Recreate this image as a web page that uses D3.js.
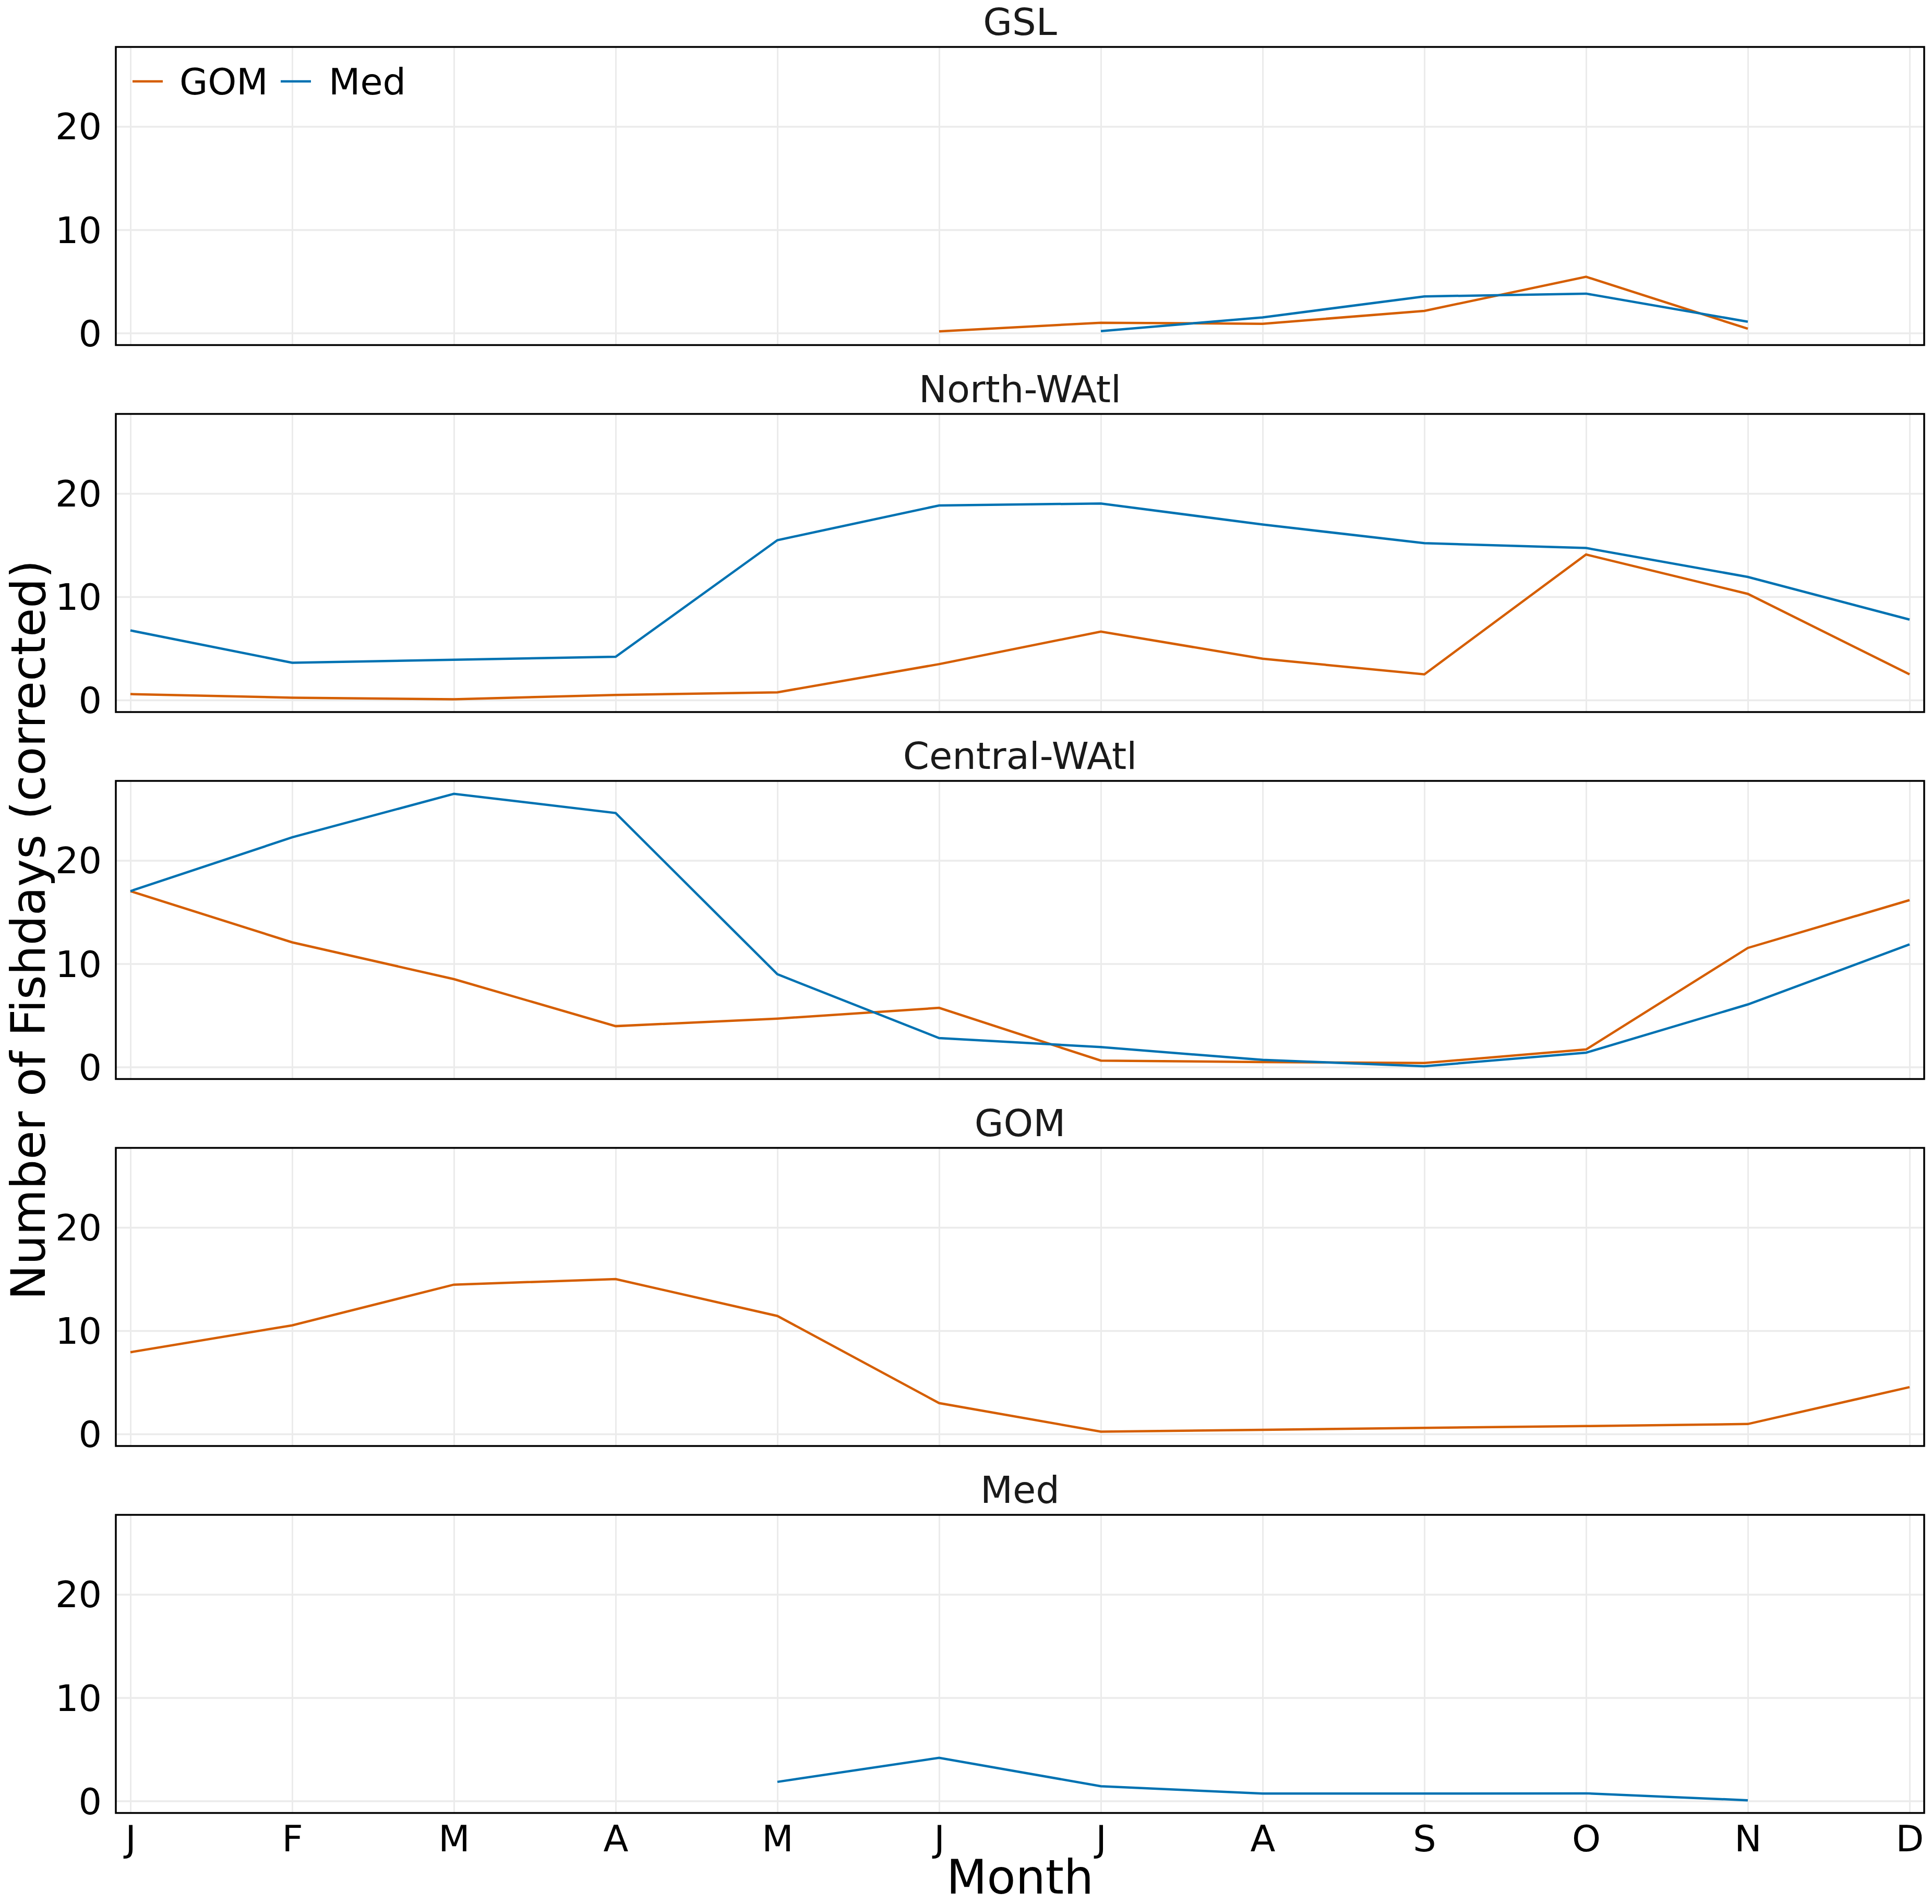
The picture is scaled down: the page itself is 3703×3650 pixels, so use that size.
<!DOCTYPE html>
<html>
<head>
<meta charset="utf-8">
<script src="https://cdn.jsdelivr.net/npm/d3@7"></script>
<style>
  html, body { margin: 0; padding: 0; background: #fff; }
  svg { display: block; font-family: "DejaVu Sans", sans-serif; }
</style>
</head>
<body>
<svg id="chart" width="3703" height="3650"></svg>
<script>
// ---------------- data ----------------
const months = ["J", "F", "M", "A", "M", "J", "J", "A", "S", "O", "N", "D"];
const panels = ["GSL", "North-WAtl", "Central-WAtl", "GOM", "Med"];
const seriesNames = ["GOM", "Med"];
const yTicks = [0, 10, 20];

const gslGOM = [null, null, null, null, null, 0.17, 1.0, 0.9, 2.15, 5.45, 0.42, null];
const gslMed = [null, null, null, null, null, null, 0.19, 1.52, 3.55, 3.82, 1.1, null];
const nwGOM = [0.58, 0.23, 0.08, 0.50, 0.75, 3.48, 6.63, 4.0, 2.49, 14.09, 10.28, 2.49];
const nwMed = [6.74, 3.61, 3.90, 4.19, 15.48, 18.84, 19.03, 16.99, 15.19, 14.72, 11.92, 7.79];
const cwGOM = [17.03, 12.07, 8.51, 3.96, 4.69, 5.73, 0.62, 0.48, 0.39, 1.70, 11.53, 16.16];
const cwMed = [17.03, 22.24, 26.45, 24.59, 8.98, 2.80, 1.93, 0.69, 0.08, 1.39, 6.06, 11.87];
const gomGOM = [7.92, 10.52, 14.46, 15.0, 11.43, 2.99, 0.23, 0.41, 0.6, 0.77, 0.97, 4.54];
const gomMed = [null, null, null, null, null, null, null, null, null, null, null, null];
const medGOM = [null, null, null, null, null, null, null, null, null, null, null, null];
const medMed = [null, null, null, null, 1.85, 4.18, 1.43, 0.72, 0.72, 0.74, 0.07, null];

const panelData = [
  [gslGOM, gslMed],
  [nwGOM, nwMed],
  [cwGOM, cwMed],
  [gomGOM, gomMed],
  [medGOM, medMed]
];

// ---------------- layout ----------------
const colors = { GOM: "#D55E00", Med: "#0072B2" };
const plotLeft = 222, plotRight = 3688;
const firstTop = 90, panelStep = 703.5, panelH = 571.5;
const fontSize = 70;

const svg = d3.select("#chart");

const x = d3.scaleLinear().domain([0, 11]).range([250, 3660]);
const yDomain = [-1.16, 27.7];

panels.forEach((name, pi) => {
  const top = firstTop + pi * panelStep;
  const y = d3.scaleLinear().domain(yDomain).range([top + panelH, top]);
  const g = svg.append("g");

  g.append("rect")
    .attr("x", plotLeft).attr("y", top)
    .attr("width", plotRight - plotLeft).attr("height", panelH)
    .attr("fill", "#fff");

  // vertical gridlines
  g.append("g")
    .attr("transform", `translate(0,${top + panelH})`)
    .call(d3.axisBottom(x).tickValues(d3.range(12)).tickSize(-panelH).tickFormat(""))
    .call(a => a.select(".domain").remove())
    .call(a => a.selectAll("line").attr("stroke", "#ebebeb").attr("stroke-width", 3));

  // horizontal gridlines + labels
  g.append("g")
    .attr("transform", `translate(${plotLeft},0)`)
    .call(d3.axisLeft(y).tickValues(yTicks).tickSize(-(plotRight - plotLeft)).tickPadding(27).tickFormat(d3.format("d")))
    .call(a => a.select(".domain").remove())
    .call(a => a.selectAll("line").attr("stroke", "#ebebeb").attr("stroke-width", 3.5))
    .call(a => a.selectAll("text")
      .attr("font-size", fontSize)
      .attr("font-family", "DejaVu Sans")
      .attr("fill", "#000")
      .attr("dy", "0.35em")
      .attr("x", 195 - plotLeft));

  // lines
  panelData[pi].forEach((vals, si) => {
    const line = d3.line()
      .defined(d => d != null)
      .x((d, i) => x(i))
      .y(d => y(d));
    g.append("path")
      .datum(vals)
      .attr("fill", "none")
      .attr("stroke", colors[seriesNames[si]])
      .attr("stroke-width", 4.5)
      .attr("stroke-linejoin", "miter")
      .attr("stroke-linecap", "butt")
      .attr("d", line);
  });

  // frame
  g.append("rect")
    .attr("x", plotLeft).attr("y", top)
    .attr("width", plotRight - plotLeft).attr("height", panelH)
    .attr("fill", "none")
    .attr("stroke", "#000")
    .attr("stroke-width", 3.5);

  // title
  g.append("text")
    .attr("x", (plotLeft + plotRight) / 2)
    .attr("y", top - 23)
    .attr("text-anchor", "middle")
    .attr("font-size", 72)
    .attr("fill", "#1a1a1a")
    .text(name);

  // x tick labels on bottom panel
  if (pi === panels.length - 1) {
    g.append("g")
      .attr("transform", `translate(0,${top + panelH})`)
      .call(d3.axisBottom(x).tickValues(d3.range(12)).tickSize(0).tickPadding(0)
        .tickFormat(i => months[i]))
      .call(a => a.select(".domain").remove())
      .call(a => a.selectAll("text")
        .attr("font-size", fontSize)
        .attr("font-family", "DejaVu Sans")
        .attr("fill", "#000")
        .attr("dy", null)
        .attr("y", 3549 - (top + panelH)));
  }

  // legend in first panel
  if (pi === 0) {
    const leg = g.append("g");
    const items = [
      { name: "GOM", x0: 254, tx: 344 },
      { name: "Med", x0: 538, tx: 630 }
    ];
    items.forEach(it => {
      leg.append("line")
        .attr("x1", it.x0).attr("x2", it.x0 + 58)
        .attr("y1", 156).attr("y2", 156)
        .attr("stroke", colors[it.name])
        .attr("stroke-width", 4.5);
      leg.append("text")
        .attr("x", it.tx).attr("y", 181)
        .attr("font-size", fontSize)
        .attr("fill", "#000")
        .text(it.name);
    });
  }
});

// axis labels
svg.append("text")
  .attr("x", (plotLeft + plotRight) / 2)
  .attr("y", 3630)
  .attr("text-anchor", "middle")
  .attr("font-size", 90)
  .attr("fill", "#000")
  .text("Month");

svg.append("text")
  .attr("transform", `translate(86,${(firstTop + firstTop + 4 * panelStep + panelH) / 2}) rotate(-90)`)
  .attr("text-anchor", "middle")
  .attr("font-size", 90)
  .attr("fill", "#000")
  .text("Number of Fishdays (corrected)");
</script>
</body>
</html>
